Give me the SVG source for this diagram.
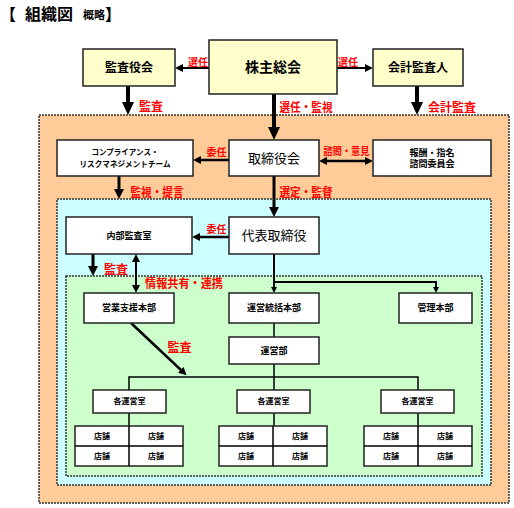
<svg xmlns="http://www.w3.org/2000/svg" width="514" height="508" viewBox="0 0 514 508">
<style>
text{font-family:"Noto Sans CJK JP","Liberation Sans",sans-serif;text-anchor:middle;fill:#000}
.b{font-weight:bold}
.red{fill:#FF0000;font-weight:bold}
.yb{fill:#FFFFCC;stroke:#222;stroke-width:1.5}
.wb{fill:#FFFFFF;stroke:#222;stroke-width:1.5}
.area{stroke:#333;stroke-width:1.5;stroke-dasharray:2,1}
.ln{stroke:#000;fill:none}
</style>
<defs>
<marker id="big" markerUnits="userSpaceOnUse" markerWidth="13" markerHeight="12" refX="1" refY="6" orient="auto"><path d="M0,0 L13,6 L0,12 z" fill="#000"/></marker>
<marker id="med" markerUnits="userSpaceOnUse" markerWidth="10" markerHeight="10" refX="1" refY="5" orient="auto"><path d="M0,0 L10,5 L0,10 z" fill="#000"/></marker>
<marker id="sm" markerUnits="userSpaceOnUse" markerWidth="8" markerHeight="8" refX="1" refY="4" orient="auto-start-reverse"><path d="M0,0 L8,4 L0,8 z" fill="#000"/></marker>
<marker id="xs" markerUnits="userSpaceOnUse" markerWidth="6" markerHeight="6" refX="1" refY="3" orient="auto"><path d="M0,0 L6,3 L0,6 z" fill="#000"/></marker>
</defs>

<g id="title">
<text x="0" y="20" style="text-anchor:start" class="b" font-size="16">【</text>
<text x="25" y="20" style="text-anchor:start" class="b" font-size="16">組織図</text>
<text x="83" y="19" style="text-anchor:start" class="b" font-size="11">概略</text>
<text x="105" y="20" style="text-anchor:start" class="b" font-size="16">】</text>
</g>

<g id="areas">
<rect class="area" x="39" y="115" width="470" height="388" fill="#FFCC99"/>
<rect class="area" x="57" y="199" width="434" height="286" fill="#CCFFFF"/>
<rect class="area" x="66" y="276" width="416" height="200" fill="#CCFFCC"/>
</g>

<g id="connectors">
<line class="ln" x1="209" y1="68" x2="182" y2="68" stroke-width="2" marker-end="url(#sm)"/>
<line class="ln" x1="337" y1="68" x2="366" y2="68" stroke-width="2" marker-end="url(#sm)"/>
<line class="ln" x1="128" y1="86" x2="128" y2="103" stroke-width="4" marker-end="url(#big)"/>
<line class="ln" x1="274" y1="94" x2="274" y2="128" stroke-width="4" marker-end="url(#big)"/>
<line class="ln" x1="417" y1="86" x2="417" y2="103" stroke-width="4" marker-end="url(#big)"/>
<line class="ln" x1="229" y1="160" x2="200" y2="160" stroke-width="2.5" marker-end="url(#sm)"/>
<line class="ln" x1="326" y1="161" x2="366" y2="161" stroke-width="2.5" marker-start="url(#sm)" marker-end="url(#sm)"/>
<line class="ln" x1="119" y1="176" x2="119" y2="190" stroke-width="3" marker-end="url(#med)"/>
<line class="ln" x1="274" y1="176" x2="274" y2="208" stroke-width="3" marker-end="url(#med)"/>
<line class="ln" x1="229" y1="237" x2="199" y2="237" stroke-width="2.5" marker-end="url(#sm)"/>
<line class="ln" x1="93" y1="254" x2="93" y2="267" stroke-width="3" marker-end="url(#med)"/>
<line class="ln" x1="136" y1="261" x2="136" y2="286" stroke-width="2" marker-start="url(#sm)" marker-end="url(#sm)"/>
<line class="ln" x1="274" y1="254" x2="274" y2="288" stroke-width="2" marker-end="url(#xs)"/>
<path class="ln" d="M274,282 H436 V288" stroke-width="2" marker-end="url(#xs)"/>
<line class="ln" x1="274" y1="323" x2="274" y2="337" stroke-width="1.5"/>
<path class="ln" d="M274,364 V377 M129,390 V377 H418 V390 M274,377 V390" stroke-width="1.5"/>
<path class="ln" d="M129,413 V426 M274,413 V426 M418,413 V426" stroke-width="1.5"/>
<line class="ln" x1="131" y1="323" x2="181.5" y2="370.5" stroke-width="2.5" marker-end="url(#sm)"/>
</g>

<g id="labels">
<text class="red" x="198" y="65.5" font-size="10">選任</text>
<text class="red" x="348" y="65.5" font-size="10">選任</text>
<text class="red" x="151" y="111" font-size="12">監査</text>
<text class="red" x="306" y="112" font-size="12" textLength="53" lengthAdjust="spacingAndGlyphs">選任・監視</text>
<text class="red" x="452" y="112" font-size="12">会計監査</text>
<text class="red" x="216.5" y="156" font-size="10">委任</text>
<text class="red" x="346.5" y="155" font-size="10" textLength="46" lengthAdjust="spacingAndGlyphs">諮問・意見</text>
<text class="red" x="157" y="197" font-size="12" textLength="53" lengthAdjust="spacingAndGlyphs">監視・提言</text>
<text class="red" x="306" y="197" font-size="12" textLength="53" lengthAdjust="spacingAndGlyphs">選定・監督</text>
<text class="red" x="216.5" y="233" font-size="10">委任</text>
<text class="red" x="116" y="274" font-size="12">監査</text>
<text class="red" x="184" y="288" font-size="12" textLength="78" lengthAdjust="spacingAndGlyphs">情報共有・連携</text>
<text class="red" x="179.5" y="352" font-size="12">監査</text>
</g>

<g id="n-kansayakukai"><rect class="yb" x="83" y="49" width="92" height="37"/><text class="b" x="129" y="71.7" font-size="12">監査役会</text></g>
<g id="n-kabunushi"><rect class="yb" x="209" y="40" width="128" height="54" stroke-width="2.5"/><text class="b" x="273" y="72" font-size="14">株主総会</text></g>
<g id="n-kaikei"><rect class="yb" x="373" y="49" width="90" height="37"/><text class="b" x="418" y="71.7" font-size="12">会計監査人</text></g>
<g id="n-compliance"><rect class="wb" x="57" y="140" width="136" height="36"/><text class="b" x="125" y="155.3" font-size="8" textLength="67" lengthAdjust="spacingAndGlyphs">コンプライアンス・</text><text class="b" x="125" y="167" font-size="8" textLength="91" lengthAdjust="spacingAndGlyphs">リスクマネジメントチーム</text></g>
<g id="n-torishimariyakukai"><rect class="wb" x="229" y="140" width="90" height="36"/><text x="274" y="162.5" font-size="13">取締役会</text></g>
<g id="n-houshu"><rect class="wb" x="373" y="140" width="118" height="36"/><text class="b" x="432" y="155.8" font-size="9">報酬・指名</text><text class="b" x="432" y="167.4" font-size="9">諮問委員会</text></g>
<g id="n-daihyo"><rect class="wb" x="229" y="217" width="90" height="37"/><text x="274" y="240" font-size="13">代表取締役</text></g>
<g id="n-naibu"><rect class="wb" x="66" y="217" width="126" height="37"/><text class="b" x="129" y="238.7" font-size="9">内部監査室</text></g>
<g id="n-eigyo"><rect class="wb" x="84" y="293" width="90" height="30"/><text class="b" x="129" y="311.2" font-size="9">営業支援本部</text></g>
<g id="n-uneitoukatsu"><rect class="wb" x="229" y="293" width="90" height="30"/><text class="b" x="274" y="311.2" font-size="9">運営統括本部</text></g>
<g id="n-kanri"><rect class="wb" x="399" y="293" width="73" height="30"/><text class="b" x="435.5" y="311.2" font-size="9">管理本部</text></g>
<g id="n-unei"><rect class="wb" x="229" y="337" width="90" height="27"/><text class="b" x="274" y="353.7" font-size="9">運営部</text></g>
<g id="n-shitsu1"><rect class="wb" x="93" y="390" width="73" height="23"/><text class="b" x="129.5" y="404.3" font-size="8">各運営室</text></g>
<g id="n-shitsu2"><rect class="wb" x="237" y="390" width="73" height="23"/><text class="b" x="273.5" y="404.3" font-size="8">各運営室</text></g>
<g id="n-shitsu3"><rect class="wb" x="381" y="390" width="73" height="23"/><text class="b" x="417.5" y="404.3" font-size="8">各運営室</text></g>
<g id="n-tenpo1"><rect class="wb" x="75" y="426" width="108" height="40"/><path class="ln" d="M129,426 V466 M75,446 H183" stroke-width="1.5"/><text class="b" x="102" y="438.8" font-size="8">店舗</text><text class="b" x="156" y="438.8" font-size="8">店舗</text><text class="b" x="102" y="458.8" font-size="8">店舗</text><text class="b" x="156" y="458.8" font-size="8">店舗</text></g>
<g id="n-tenpo2"><rect class="wb" x="219" y="426" width="108" height="40"/><path class="ln" d="M273,426 V466 M219,446 H327" stroke-width="1.5"/><text class="b" x="246" y="438.8" font-size="8">店舗</text><text class="b" x="300" y="438.8" font-size="8">店舗</text><text class="b" x="246" y="458.8" font-size="8">店舗</text><text class="b" x="300" y="458.8" font-size="8">店舗</text></g>
<g id="n-tenpo3"><rect class="wb" x="364" y="426" width="108" height="40"/><path class="ln" d="M418,426 V466 M364,446 H472" stroke-width="1.5"/><text class="b" x="391" y="438.8" font-size="8">店舗</text><text class="b" x="445" y="438.8" font-size="8">店舗</text><text class="b" x="391" y="458.8" font-size="8">店舗</text><text class="b" x="445" y="458.8" font-size="8">店舗</text></g>
</svg>
